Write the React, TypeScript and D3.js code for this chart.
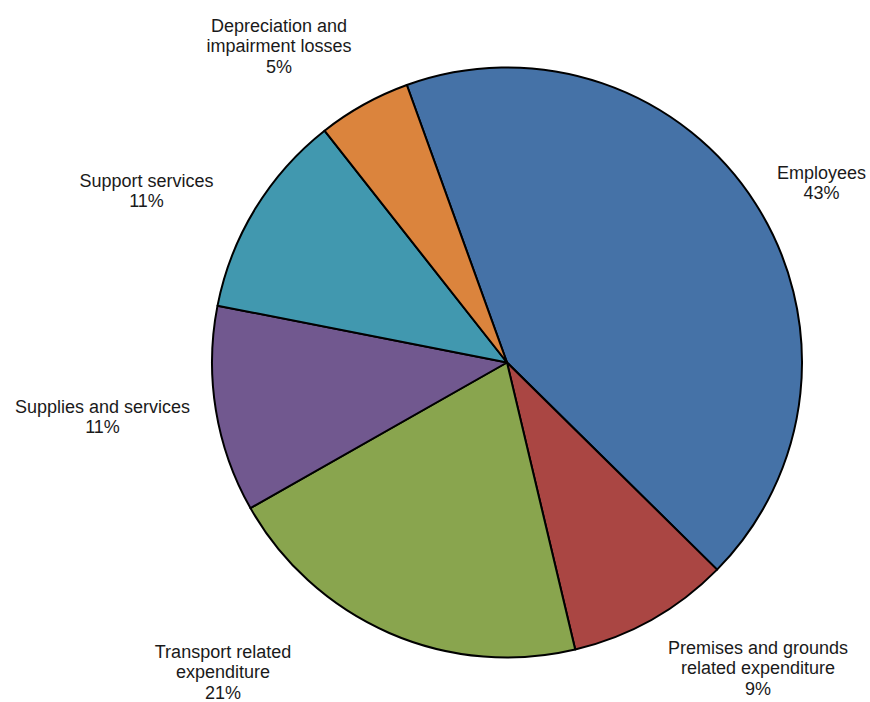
import React from "react";
import * as d3 from "d3";

const categories = [
  "Employees",
  "Premises and grounds related expenditure",
  "Transport related expenditure",
  "Supplies and services",
  "Support services",
  "Depreciation and impairment losses",
];
const values = [42.9, 8.9, 20.5, 11.3, 11.3, 5.1];
const labelLines = [
  ["Employees"],
  ["Premises and grounds", "related expenditure"],
  ["Transport related", "expenditure"],
  ["Supplies and services"],
  ["Support services"],
  ["Depreciation and", "impairment losses"],
];
const colors = ["#4572a7", "#aa4643", "#89a54e", "#71588f", "#4198af", "#db843d"];

// label layout: first-baseline position relative to pie centre
const labelOffsets: [number, number][] = [
  [314.5, -184],
  [251, 291],
  [-284, 295],
  [-404.5, 50],
  [-360.5, -176],
  [-228, -331],
];

const W = 870;
const H = 702;
const cx = 507;
const cy = 362.5;
const R = 295;
const startDeg = -19.85;
const lineH = 20.6;

export default function App() {
  const start = (startDeg * Math.PI) / 180;
  const pie = d3
    .pie<number>()
    .sort(null)
    .value((d) => d)
    .startAngle(start)
    .endAngle(start + 2 * Math.PI);
  const arcs = pie(values);
  const arc = d3.arc<d3.PieArcDatum<number>>().innerRadius(0).outerRadius(R);
  const total = d3.sum(values);

  return (
    <svg
      width={W}
      height={H}
      style={{ position: "absolute", left: 0, top: 0, background: "#fff" }}
      fontFamily="'Liberation Sans', Arial, sans-serif"
    >
      <g transform={`translate(${cx},${cy})`}>
        {arcs.map((a, i) => (
          <path
            key={categories[i]}
            d={arc(a) || ""}
            fill={colors[i]}
            stroke="#000"
            strokeWidth={2}
            strokeLinejoin="round"
          />
        ))}
        {arcs.map((a, i) => {
          const [dx, dy] = labelOffsets[i];
          const lines = [...labelLines[i], `${Math.round((values[i] / total) * 100)}%`];
          return (
            <text
              key={"l" + i}
              x={dx}
              y={dy}
              textAnchor="middle"
              fontSize={18}
              fill="#1a1a1a"
            >
              {lines.map((t, j) => (
                <tspan key={j} x={dx} dy={j === 0 ? 0 : lineH}>
                  {t}
                </tspan>
              ))}
            </text>
          );
        })}
      </g>
    </svg>
  );
}
